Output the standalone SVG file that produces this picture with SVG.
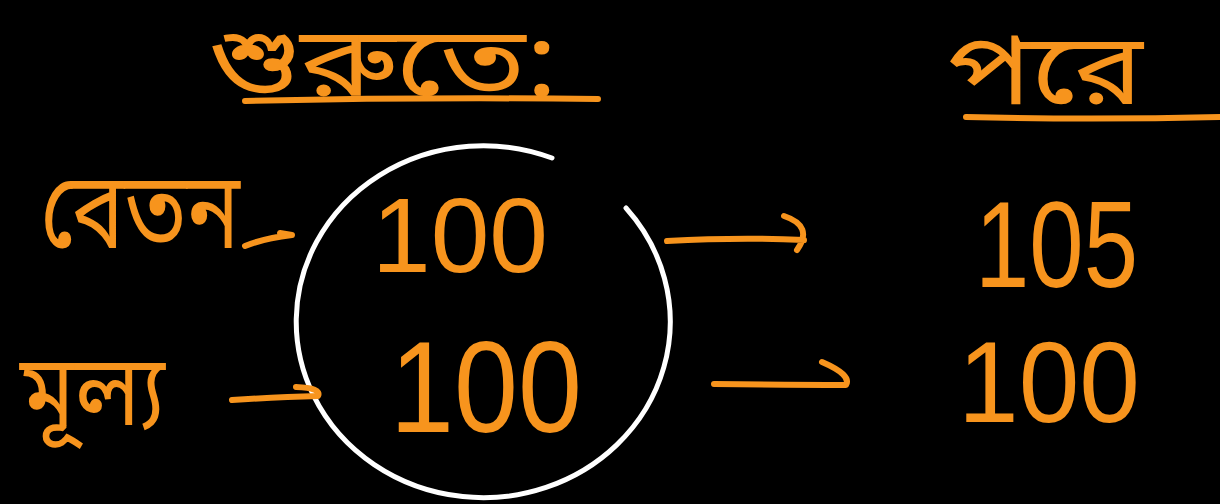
<svg xmlns="http://www.w3.org/2000/svg" width="1220" height="504" viewBox="0 0 1220 504">
<style>
.h{fill:#f7941d;font-family:"Noto Sans Bengali","Noto Serif Bengali","Lohit Bengali","Noto Sans",sans-serif}
.n{fill:#f7941d;font-family:"Liberation Sans",Arial,sans-serif}
.s{fill:none;stroke:#f7941d;stroke-width:6;stroke-linecap:round;stroke-linejoin:round}
.w{fill:none;stroke:#ffffff;stroke-width:5;stroke-linecap:round}
</style>
<rect width="1220" height="504" fill="#000000"/>
<g id="title-start">
<text class="h" x="208" y="96" font-size="98" textLength="350" lengthAdjust="spacingAndGlyphs">শুরুতে:</text>
<path class="s" d="M245,101 Q420,97 598,99"/>
</g>
<g id="title-later">
<text class="h" x="948" y="104" font-size="100" textLength="195" lengthAdjust="spacingAndGlyphs">পরে</text>
<path class="s" d="M966,117 Q1090,120 1220,117"/>
</g>
<g id="label-salary">
<text class="h" x="40" y="248" font-size="108" textLength="200" lengthAdjust="spacingAndGlyphs">বেতন</text>
</g>
<g id="label-price">
<text class="h" x="20" y="425" font-size="100" textLength="145" lengthAdjust="spacingAndGlyphs">মূল্য</text>
</g>
<g id="circle">
<path class="w" d="M552,158 A187 176 0 1 0 626,208"/>
</g>
<g id="start-salary"><text class="n" x="372" y="272" font-size="105" textLength="176" lengthAdjust="spacingAndGlyphs">100</text></g>
<g id="start-price"><text class="n" x="390" y="432" font-size="130" textLength="192" lengthAdjust="spacingAndGlyphs">100</text></g>
<g id="later-salary"><text class="n" x="975" y="287" font-size="122" textLength="163" lengthAdjust="spacingAndGlyphs">105</text></g>
<g id="later-price"><text class="n" x="958" y="422" font-size="115" textLength="182" lengthAdjust="spacingAndGlyphs">100</text></g>
<g id="connectors">
<path class="s" d="M245,246 Q265,238 292,235 M280,233 L292,235"/>
<path class="s" d="M232,400 Q280,397 318,396 Q322,388 296,387"/>
<path class="s" d="M667,241 Q740,237 804,240 M784,216 Q814,226 797,250"/>
<path class="s" d="M714,384 Q790,385 846,385 Q852,375 822,362"/>
</g>
</svg>
